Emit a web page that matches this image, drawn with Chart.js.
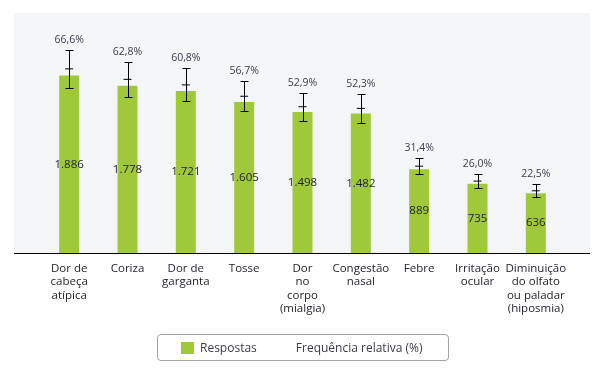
<!DOCTYPE html>
<html>
<head>
<meta charset="utf-8">
<script src="https://cdn.jsdelivr.net/npm/chart.js@4.4.0/dist/chart.umd.min.js"></script>
<style>
    html, body { margin: 0; padding: 0; background: #fff; }
    #wrap { position: relative; width: 601px; height: 371px; }
    #legend {
        position: absolute;
        left: 157px;
        top: 334px;
        width: 290px;
        height: 25px;
        border: 1px solid #a3a3a3;
        border-radius: 4px;
        display: flex;
        align-items: center;
        font-family: "Open Sans", sans-serif;
        font-size: 12px;
        color: #3c3c46;
        box-sizing: content-box;
    }
    #legend .swatch {
        display: inline-block;
        width: 13px;
        height: 12px;
        background: #a0c93a;
        margin-left: 23px;
        margin-right: 6px;
    }
    #legend .second { margin-left: 39px; }
</style>
</head>
<body>
<div id="wrap">
    <canvas id="chart" width="601" height="371"></canvas>
    <div id="legend">
        <span class="swatch"></span><span>Respostas</span>
        <span class="second">Frequência relativa (%)</span>
    </div>
</div>
<script>
/**
 * Sintomas - respostas e frequência relativa
 */

const categories = [
    ['Dor de', 'cabeça', 'atípica'],
    ['Coriza'],
    ['Dor de', 'garganta'],
    ['Tosse'],
    ['Dor', 'no', 'corpo', '(mialgia)'],
    ['Congestão', 'nasal'],
    ['Febre'],
    ['Irritação', 'ocular'],
    ['Diminuição', 'do olfato', 'ou paladar', '(hiposmia)']
];
const responses = [1886, 1778, 1721, 1605, 1498, 1482, 889, 735, 636];
const relFreq = [66.6, 62.8, 60.8, 56.7, 52.9, 52.3, 31.4, 26.0, 22.5];
const relFreqError = [6.8, 6.3, 6.0, 5.5, 5.1, 5.2, 3.0, 2.5, 2.3];

const BAR_COLOR = '#a0c93a';
const FONT = '"Open Sans", sans-serif';

function formatCount(n) {
    return String(n).replace(/\B(?=(\d{3})+(?!\d))/g, '.');
}

function formatPct(v) {
    return v.toFixed(1).replace('.', ',') + '%';
}

// background, axis line, error bars and value labels
const decorPlugin = {
    id: 'decor',
    beforeDraw(chart) {
        const { ctx, chartArea: a } = chart;
        ctx.save();
        ctx.fillStyle = '#f4f5f7';
        ctx.fillRect(a.left - 26, a.top, a.right - a.left + 51, a.bottom - a.top);
        ctx.restore();
    },
    afterDatasetsDraw(chart) {
        const { ctx, chartArea: a } = chart;
        const bars = chart.getDatasetMeta(0).data;
        const y1 = chart.scales.y1;

        ctx.save();

        // counts inside the bars
        ctx.font = '11.5px ' + FONT;
        ctx.fillStyle = '#1e1e28';
        ctx.textAlign = 'center';
        ctx.textBaseline = 'middle';
        bars.forEach((bar, i) => {
            ctx.fillText(formatCount(responses[i]), bar.x, (bar.y + bar.base) / 2);
        });

        // error bars + percentage labels
        ctx.strokeStyle = '#000';
        ctx.lineWidth = 1;
        ctx.font = '10.5px ' + FONT;
        ctx.fillStyle = '#3c3c4a';
        bars.forEach((bar, i) => {
            const x = Math.round(bar.x) + 0.5;
            const top = Math.round(y1.getPixelForValue(relFreq[i] + relFreqError[i])) + 0.5;
            const bottom = Math.round(y1.getPixelForValue(relFreq[i] - relFreqError[i])) + 0.5;
            ctx.beginPath();
            ctx.moveTo(x, top);
            ctx.lineTo(x, bottom);
            ctx.moveTo(x - 4, top);
            ctx.lineTo(x + 4, top);
            ctx.moveTo(x - 4, bottom);
            ctx.lineTo(x + 4, bottom);
            ctx.stroke();
            ctx.fillText(formatPct(relFreq[i]), bar.x, top - 10);
        });

        // axis line
        ctx.beginPath();
        ctx.lineWidth = 1.2;
        ctx.moveTo(a.left - 26, a.bottom + 0.5);
        ctx.lineTo(a.right + 25, a.bottom + 0.5);
        ctx.stroke();

        ctx.restore();
    }
};

new Chart(document.getElementById('chart'), {
    data: {
        labels: categories,
        datasets: [
            {
                type: 'bar',
                label: 'Respostas',
                data: responses,
                backgroundColor: BAR_COLOR,
                borderWidth: 0,
                categoryPercentage: 1,
                barPercentage: 0.343,
                yAxisID: 'y',
                order: 2
            },
            {
                type: 'line',
                label: 'Frequência relativa (%)',
                data: relFreq,
                showLine: false,
                pointStyle: 'line',
                pointRadius: 4,
                pointBorderColor: '#000',
                pointBorderWidth: 1,
                borderColor: '#000',
                yAxisID: 'y1',
                order: 1
            }
        ]
    },
    options: {
        responsive: false,
        animation: false,
        layout: {
            padding: { left: 40, right: 36, top: 13, bottom: 0 }
        },
        plugins: {
            legend: { display: false },
            tooltip: { enabled: false }
        },
        scales: {
            x: {
                grid: { display: false },
                border: { display: false },
                ticks: {
                    color: '#23232d',
                    font: { family: FONT, size: 11.5, lineHeight: 1.17 },
                    padding: 1,
                    maxRotation: 0,
                    autoSkip: false
                },
                afterFit(scale) {
                    scale.height = 118;
                }
            },
            y: {
                display: false,
                min: 0,
                max: 2550
            },
            y1: {
                display: false,
                min: 0,
                max: 86.8
            }
        }
    },
    plugins: [decorPlugin]
});
</script>
</body>
</html>
